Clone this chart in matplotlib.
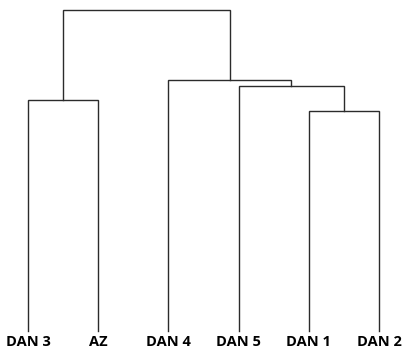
import matplotlib
matplotlib.use("Agg")
import matplotlib.pyplot as plt

# leaf labels in plotted order
leaves = ["DAN 3", "AZ", "DAN 4", "DAN 5", "DAN 1", "DAN 2"]

# merges: (left node, right node, height); nodes 0-5 are leaves, 6+ are clusters
merge_left = [0, 4, 3, 2, 6]
merge_right = [1, 5, 7, 8, 9]
merge_height = [231.3, 219.7, 245.3, 250.7, 321.3]

fig = plt.figure(figsize=(4.12, 3.6), dpi=100)
ax = fig.add_axes([0, 0, 1, 1])

xpos = {i: float(i) for i in range(len(leaves))}
ypos = {i: 0.0 for i in range(len(leaves))}
node = len(leaves)
for a, b, h in zip(merge_left, merge_right, merge_height):
    xa, xb = xpos[a], xpos[b]
    ax.plot([xa, xa, xb, xb], [ypos[a], h, h, ypos[b]],
            color="#2b2b2b", lw=1.0, solid_joinstyle="miter")
    xpos[node] = (xa + xb) / 2
    ypos[node] = h
    node += 1

for i, name in enumerate(leaves):
    ax.text(i, -11, name, ha="center", va="center", fontsize=10.5,
            fontweight="bold", family="Open Sans", color="black")

ax.set_xlim(-28 / 70.2, (412 - 28) / 70.2)
ax.set_ylim(-29, 331)
ax.axis("off")
fig.savefig("out.png", dpi=100)
